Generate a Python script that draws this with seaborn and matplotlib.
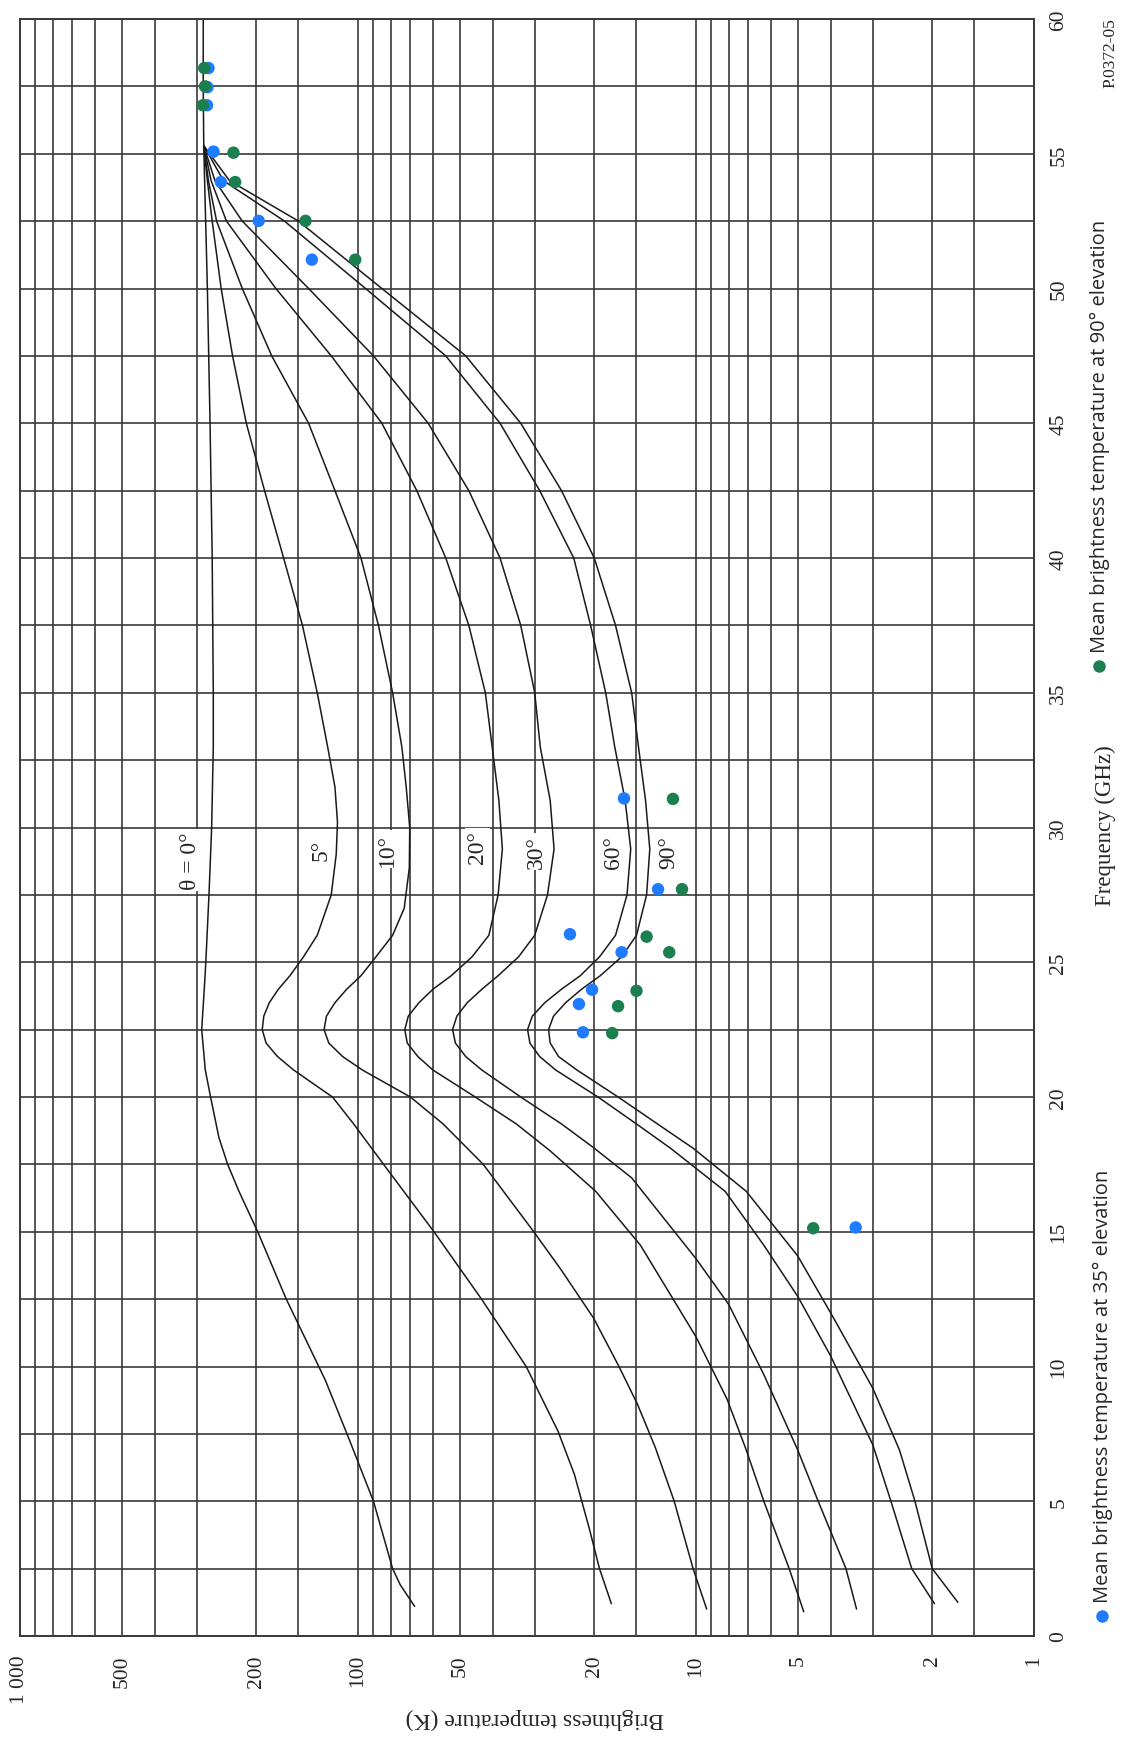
import matplotlib
matplotlib.use("Agg")
import matplotlib.pyplot as plt
import numpy as np
import pandas as pd
import seaborn as sns
from matplotlib.lines import Line2D

# brightness temperature curves (frequency GHz, temperature K) per elevation angle
freq_0 = [1.1, 1.9, 2.5, 5.0, 7.4, 9.5, 12.5, 15.0, 16.5, 17.5, 18.5, 20.0, 21.0, 22.5, 24.0, 25.0, 27.5, 30.0, 33.0, 35.0, 40.0, 45.0, 50.0, 53.0, 55.3, 57.5, 60.0]
temp_0 = [68, 75, 79, 90, 107, 125, 163, 198, 225, 243, 258, 273, 283, 290, 285, 282, 276, 271, 268, 268, 270, 274, 279, 283, 286, 287, 287]

freq_5 = [1.2, 2.5, 4.0, 6.0, 7.6, 10.0, 12.5, 15.0, 17.5, 19.0, 20.0, 21.0, 21.5, 22.0, 22.5, 23.0, 23.5, 24.0, 24.5, 25.2, 26.0, 27.5, 29.0, 30.2, 31.5, 33.0, 35.0, 37.5, 40.0, 42.5, 45.0, 47.5, 50.0, 52.5, 54.0, 55.3]
temp_5 = [17.8, 19.3, 20.7, 22.9, 25.6, 31.8, 43.1, 59.6, 84, 103, 119, 155, 173, 187, 192, 190, 183, 172, 159, 145, 132, 120, 116, 115, 117, 123, 132, 146, 166, 189, 214, 235, 254, 270, 279, 286]

freq_10 = [1.0, 2.5, 5.0, 7.0, 8.6, 10.0, 11.8, 13.6, 15.0, 17.5, 19.0, 20.0, 21.0, 21.5, 22.0, 22.5, 23.0, 23.5, 24.0, 24.5, 25.2, 26.0, 27.0, 28.5, 30.0, 31.5, 33.0, 35.0, 37.5, 40.0, 42.5, 45.0, 47.5, 50.0, 52.5, 54.0, 55.3]
temp_10 = [9.3, 10.2, 11.6, 13.2, 14.9, 16.9, 20.1, 25.1, 30.2, 42.6, 56, 70, 97, 111, 122, 126, 124, 117, 108, 98, 88.5, 79, 73, 70.5, 70.3, 72, 74.2, 79, 87, 98, 117, 140, 180, 220, 262, 277, 286]

freq_20 = [0.9, 2.5, 5.0, 6.9, 8.8, 11.1, 14.5, 16.5, 18.0, 19.0, 20.0, 21.0, 21.5, 22.0, 22.5, 23.0, 23.5, 24.0, 24.5, 25.2, 26.0, 27.5, 29.2, 31.0, 33.0, 35.0, 37.5, 40.0, 42.5, 45.0, 47.5, 50.0, 52.5, 54.0, 55.3]
temp_20 = [4.8, 5.3, 6.3, 7.1, 8.1, 10.0, 14.6, 19.8, 27, 34, 45, 60, 66.5, 71.5, 72.7, 71, 66, 60, 53, 46, 41, 38.5, 37.4, 38.3, 40.1, 42, 47, 55, 67, 85, 120, 175, 245, 272, 286]

freq_30 = [1.0, 2.5, 5.0, 6.9, 9.7, 12.3, 14.0, 17.0, 18.1, 19.0, 20.0, 21.0, 21.5, 22.0, 22.5, 23.0, 23.5, 24.0, 24.5, 25.2, 26.0, 27.5, 29.2, 31.0, 33.0, 35.0, 37.5, 40.0, 42.5, 45.0, 47.5, 50.0, 52.5, 54.0, 55.3]
temp_30 = [3.35, 3.6, 4.35, 5.0, 6.3, 8.0, 10.0, 15.5, 20.0, 25, 33, 43, 48, 51.5, 52.5, 51, 47.5, 43, 38.5, 33.5, 30, 27.5, 26.3, 27, 28.9, 30, 33, 38, 47, 62, 90, 140, 220, 265, 286]

freq_60 = [1.2, 2.5, 5.0, 7.1, 10.4, 12.6, 14.5, 16.5, 18.1, 19.0, 20.0, 21.0, 21.5, 22.0, 22.5, 23.0, 23.5, 24.0, 24.5, 25.2, 26.0, 27.5, 29.2, 31.0, 33.0, 35.0, 37.5, 40.0, 42.5, 45.0, 47.5, 50.0, 52.5, 54.0, 55.3]
temp_60 = [1.97, 2.3, 2.65, 3.0, 4.0, 5.0, 6.3, 8.2, 11.9, 15, 19.5, 26, 29, 31, 31.5, 30.5, 28, 25, 22, 19.3, 17.3, 16, 15.6, 16.2, 17.4, 18.5, 20.5, 23, 29, 38, 55, 95, 165, 250, 286]

freq_90 = [1.25, 2.5, 5.0, 6.9, 9.2, 12.0, 14.1, 16.5, 18.1, 19.0, 20.0, 21.0, 21.5, 22.0, 22.5, 23.0, 23.5, 24.0, 24.5, 25.2, 26.0, 27.5, 29.2, 31.0, 33.0, 35.0, 37.5, 40.0, 42.5, 45.0, 47.5, 50.0, 52.5, 54.0, 55.3]
temp_90 = [1.68, 2.0, 2.25, 2.5, 3.0, 4.0, 5.0, 7.1, 10.2, 13, 17, 22.5, 25.5, 27, 27.3, 26.4, 24.3, 21.8, 19.2, 16.6, 15, 14, 13.7, 14.1, 14.8, 15.5, 17.3, 20, 25, 33, 48, 85, 150, 240, 286]

curve_labels = ["θ = 0°", "5°", "10°", "20°", "30°", "60°", "90°"]
label_temp = [314, 129, 81.7, 44.3, 29.7, 17.5, 12.0]
label_freq = [28.8, 29.2, 29.2, 29.3, 29.1, 29.1, 29.1]

# measured means
meas35_freq = [15.16, 22.40, 23.45, 23.98, 25.37, 26.04, 27.71, 31.08, 51.07, 52.51, 53.95, 55.08, 56.80, 57.47, 58.18]
meas35_temp = [3.37, 21.6, 22.2, 20.3, 16.6, 23.6, 12.95, 16.33, 136.9, 196.7, 254.5, 267.6, 279.7, 278.8, 276.9]
meas90_freq = [15.13, 22.37, 23.37, 23.94, 25.37, 25.95, 27.71, 31.06, 51.07, 52.51, 53.95, 55.04, 56.80, 57.50, 58.18]
meas90_temp = [4.5, 17.7, 17.0, 15.0, 12.0, 14.0, 11.0, 11.7, 101.9, 143, 230.9, 233.6, 287.7, 283.6, 285.1]

temp_ticks = [1, 2, 5, 10, 20, 50, 100, 200, 500, 1000]
temp_ticklabels = ["1", "2", "5", "10", "20", "50", "100", "200", "500", "1 000"]
freq_ticks = list(range(0, 61, 5))

BLUE = "#1f7bff"
GREEN = "#1b7f50"
W, H = 1126, 1740

sns.set_style("white")
plt.rcParams["font.family"] = ["Liberation Serif", "DejaVu Serif"]

fig = plt.figure(figsize=(W / 100, H / 100), dpi=100)
ax = fig.add_axes([20 / W, 1 - 1637 / H, (1034 - 20) / W, (1637 - 20) / H])

curves = [(freq_0, temp_0), (freq_5, temp_5), (freq_10, temp_10), (freq_20, temp_20),
          (freq_30, temp_30), (freq_60, temp_60), (freq_90, temp_90)]
for fq, tb in curves:
    sns.lineplot(x=tb, y=fq, sort=False, estimator=None, color="#1a1a1a", lw=1.1, ax=ax)

sns.scatterplot(x=meas35_temp, y=meas35_freq, color=BLUE, s=80, edgecolor="none", ax=ax, zorder=5)
sns.scatterplot(x=meas90_temp, y=meas90_freq, color=GREEN, s=80, edgecolor="none", ax=ax, zorder=6)

for lab, t, f in zip(curve_labels, label_temp, label_freq):
    ax.text(t, f, lab, rotation=90, ha="center", va="center", fontsize=17,
            bbox=dict(facecolor="white", edgecolor="none", pad=1.5), zorder=4)

ax.set_xscale("log")
ax.set_xlim(1000, 1)
ax.set_ylim(0, 60)

minor_t = [m * 10 ** e for e in range(0, 3) for m in (1.5, 3, 4, 6, 7, 8, 9)]
ax.set_xticks(temp_ticks, labels=temp_ticklabels)
ax.set_xticks(minor_t, minor=True)
ax.set_xticklabels([], minor=True)
ax.set_yticks(freq_ticks)
ax.set_yticks(np.arange(2.5, 60, 5), minor=True)
ax.yaxis.tick_right()
ax.grid(True, which="both", color="#3a3a3a", lw=1.2)
ax.set_axisbelow(True)
ax.tick_params(axis="x", which="both", length=0, pad=13, labelsize=15.5, labelrotation=90)
ax.tick_params(axis="y", which="both", length=0, pad=11, labelsize=15.5, labelrotation=90)
for lbl in ax.get_yticklabels():
    lbl.set_va("center")
for s in ax.spines.values():
    s.set_color("#3a3a3a")
    s.set_linewidth(1.4)
ax.set_xlabel("")
ax.set_ylabel("")


def px(x, y):
    return x / W, 1 - y / H


fig.text(*px(1105, 826), "Frequency (GHz)", rotation=90, ha="center", va="center", fontsize=16.5)
fig.text(*px(535, 1719), "Brightness temperature (K)", rotation=180, ha="center", va="center", fontsize=17)
fig.text(*px(1110, 53), "P.0372-05", rotation=90, ha="center", va="center", fontsize=12.5)

# legend drawn by hand, rotated with the chart
for (mx, my), ty, col, txt in [((1102, 1617), 1603, BLUE, "Mean brightness temperature at 35° elevation"),
                               ((1099, 667), 653, GREEN, "Mean brightness temperature at 90° elevation")]:
    fig.add_artist(Line2D([mx / W], [1 - my / H], marker="o", ms=9, color=col, mec="none",
                          transform=fig.transFigure))
    fig.text(*px(mx + 1, ty), txt, rotation=90, ha="center", va="bottom", fontsize=14.5,
             family=["Open Sans", "DejaVu Sans"])

fig.savefig("out.png", dpi=100)
